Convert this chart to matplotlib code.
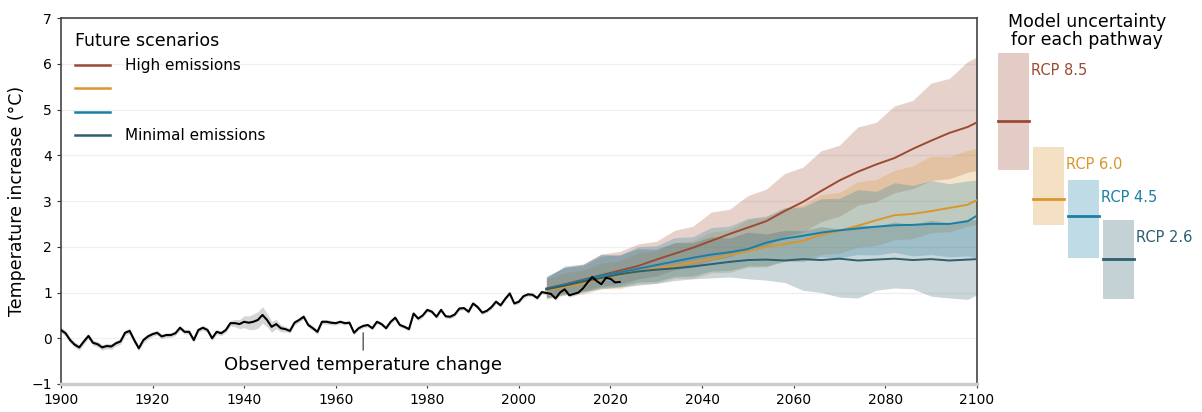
import numpy as np
import matplotlib.pyplot as plt
from matplotlib.lines import Line2D

# Observed temperature change (annual, 1900-2022)
obs_years = np.arange(1900, 2023)
obs_temp = [
    0.18, 0.11, -0.04, -0.14, -0.20, -0.07, 0.05, -0.10, -0.13, -0.20,
    -0.17, -0.18, -0.11, -0.07, 0.12, 0.16, -0.04, -0.22, -0.04, 0.04,
    0.09, 0.12, 0.04, 0.07, 0.07, 0.11, 0.23, 0.14, 0.14, -0.04,
    0.18, 0.23, 0.18, 0.00, 0.14, 0.11, 0.18, 0.33, 0.33, 0.31,
    0.36, 0.34, 0.36, 0.40, 0.51, 0.40, 0.25, 0.31, 0.22, 0.20,
    0.16, 0.34, 0.40, 0.47, 0.29, 0.22, 0.14, 0.36, 0.36, 0.34,
    0.33, 0.36, 0.33, 0.34, 0.12, 0.22, 0.27, 0.29, 0.22, 0.36,
    0.31, 0.22, 0.36, 0.45, 0.29, 0.25, 0.20, 0.54, 0.43, 0.50,
    0.62, 0.58, 0.47, 0.62, 0.48, 0.47, 0.52, 0.65, 0.66, 0.58,
    0.76, 0.68, 0.56, 0.60, 0.68, 0.80, 0.72, 0.86, 0.98, 0.76,
    0.80, 0.92, 0.96, 0.95, 0.88, 1.01, 0.99, 0.97, 0.87, 1.00,
    1.07, 0.94, 0.97, 1.00, 1.09, 1.22, 1.34, 1.25, 1.18, 1.32,
    1.30, 1.22, 1.23,
]
obs_err = [
    0.06, 0.06, 0.06, 0.06, 0.06, 0.06, 0.06, 0.06, 0.06, 0.06,
    0.06, 0.06, 0.06, 0.06, 0.06, 0.06, 0.06, 0.06, 0.06, 0.06,
    0.05, 0.05, 0.05, 0.05, 0.05, 0.05, 0.05, 0.05, 0.05, 0.05,
    0.05, 0.05, 0.05, 0.05, 0.05, 0.05, 0.05, 0.06, 0.08, 0.10,
    0.13, 0.15, 0.17, 0.18, 0.18, 0.15, 0.12, 0.10, 0.08, 0.06,
    0.05, 0.05, 0.05, 0.05, 0.05, 0.05, 0.05, 0.05, 0.05, 0.05,
    0.04, 0.04, 0.04, 0.04, 0.04, 0.04, 0.04, 0.04, 0.04, 0.04,
    0.04, 0.04, 0.04, 0.04, 0.04, 0.04, 0.04, 0.04, 0.04, 0.04,
    0.04, 0.04, 0.04, 0.04, 0.04, 0.04, 0.04, 0.04, 0.04, 0.04,
    0.04, 0.04, 0.04, 0.04, 0.04, 0.04, 0.04, 0.04, 0.04, 0.04,
    0.04, 0.04, 0.04, 0.04, 0.04, 0.04, 0.04, 0.04, 0.04, 0.04,
    0.04, 0.04, 0.04, 0.04, 0.04, 0.04, 0.04, 0.04, 0.04, 0.04,
    0.04, 0.04, 0.04,
]

# Projections (model mean and spread)
proj_years = [2006, 2010, 2014, 2018, 2022, 2026, 2030, 2034, 2038, 2042, 2046, 2050, 2054,
              2058, 2062, 2066, 2070, 2074, 2078, 2082, 2086, 2090, 2094, 2098, 2100]

rcp85_mean = [1.09, 1.18, 1.28, 1.38, 1.48, 1.58, 1.72, 1.85, 1.98, 2.13, 2.28, 2.42, 2.56,
              2.78, 2.98, 3.22, 3.45, 3.64, 3.80, 3.94, 4.14, 4.32, 4.49, 4.62, 4.72]
rcp85_high = [1.35, 1.55, 1.62, 1.84, 1.90, 2.06, 2.12, 2.36, 2.45, 2.76, 2.82, 3.12, 3.26,
              3.60, 3.74, 4.10, 4.22, 4.62, 4.72, 5.08, 5.20, 5.58, 5.68, 6.05, 6.15]
rcp85_low = [0.90, 0.99, 1.04, 1.14, 1.18, 1.30, 1.36, 1.50, 1.56, 1.70, 1.78, 1.95, 2.02,
             2.23, 2.32, 2.55, 2.67, 2.91, 2.99, 3.18, 3.27, 3.45, 3.49, 3.63, 3.67]

rcp60_mean = [1.05, 1.12, 1.20, 1.30, 1.38, 1.46, 1.53, 1.58, 1.66, 1.74, 1.82, 1.90, 2.00,
              2.06, 2.13, 2.26, 2.35, 2.46, 2.58, 2.69, 2.72, 2.78, 2.85, 2.92, 3.02]
rcp60_high = [1.30, 1.43, 1.49, 1.64, 1.69, 1.86, 1.92, 2.09, 2.13, 2.32, 2.37, 2.59, 2.65,
              2.86, 2.92, 3.14, 3.19, 3.42, 3.47, 3.67, 3.77, 3.98, 3.97, 4.11, 4.15]
rcp60_low = [0.85, 0.94, 0.96, 1.08, 1.08, 1.19, 1.20, 1.31, 1.31, 1.43, 1.44, 1.55, 1.56,
             1.68, 1.70, 1.83, 1.86, 1.99, 2.03, 2.15, 2.18, 2.31, 2.33, 2.45, 2.48]

rcp45_mean = [1.08, 1.17, 1.27, 1.37, 1.44, 1.52, 1.60, 1.68, 1.76, 1.83, 1.88, 1.95, 2.09,
              2.18, 2.24, 2.31, 2.36, 2.40, 2.44, 2.47, 2.48, 2.50, 2.50, 2.56, 2.68]
rcp45_high = [1.35, 1.55, 1.59, 1.80, 1.82, 2.00, 2.02, 2.20, 2.22, 2.42, 2.45, 2.62, 2.67,
              2.85, 2.87, 3.05, 3.06, 3.25, 3.21, 3.40, 3.34, 3.45, 3.38, 3.44, 3.46]
rcp45_low = [0.88, 0.97, 1.00, 1.11, 1.13, 1.23, 1.24, 1.35, 1.36, 1.47, 1.48, 1.58, 1.58,
             1.69, 1.68, 1.78, 1.76, 1.83, 1.82, 1.88, 1.80, 1.83, 1.78, 1.80, 1.76]

rcp26_mean = [1.07, 1.15, 1.24, 1.32, 1.40, 1.46, 1.50, 1.53, 1.57, 1.62, 1.67, 1.71, 1.72,
              1.70, 1.73, 1.71, 1.74, 1.70, 1.72, 1.74, 1.71, 1.73, 1.70, 1.72, 1.73]
rcp26_high = [1.32, 1.58, 1.62, 1.84, 1.82, 1.96, 1.95, 2.09, 2.09, 2.22, 2.19, 2.32, 2.28,
              2.36, 2.35, 2.44, 2.39, 2.48, 2.45, 2.54, 2.49, 2.58, 2.52, 2.60, 2.59]
rcp26_low = [0.88, 0.95, 1.02, 1.08, 1.12, 1.16, 1.20, 1.26, 1.30, 1.32, 1.34, 1.30, 1.27,
             1.22, 1.05, 1.00, 0.90, 0.88, 1.05, 1.10, 1.08, 0.92, 0.88, 0.85, 0.95]

# Right panel: model uncertainty at 2100
rcp_labels = ["RCP 8.5", "RCP 6.0", "RCP 4.5", "RCP 2.6"]
rcp_bar_low = [3.68, 2.48, 1.76, 0.86]
rcp_bar_high = [6.24, 4.19, 3.46, 2.59]
rcp_bar_mid = [4.75, 3.05, 2.68, 1.74]

colors = ["#9c4a33", "#d9962e", "#1a7fa6", "#2d5f6e"]
legend_labels = ["High emissions", "", "", "Minimal emissions"]

series = [
    (rcp85_mean, rcp85_low, rcp85_high),
    (rcp60_mean, rcp60_low, rcp60_high),
    (rcp45_mean, rcp45_low, rcp45_high),
    (rcp26_mean, rcp26_low, rcp26_high),
]

fig = plt.figure(figsize=(12.02, 4.12), dpi=100)
ax = fig.add_axes([0.0507, 0.068, 0.762, 0.888])

for i, (mean, low, high) in enumerate(series):
    ax.fill_between(proj_years, low, high, color=colors[i], alpha=0.25, linewidth=0, zorder=1)
for i, (mean, low, high) in enumerate(series):
    ax.plot(proj_years, mean, color=colors[i], linewidth=1.4, zorder=3)

obs_temp = np.array(obs_temp)
obs_err = np.array(obs_err)
ax.fill_between(obs_years, obs_temp - obs_err, obs_temp + obs_err, color="#bbbbbb",
                alpha=0.6, linewidth=0, zorder=2)
ax.plot(obs_years, obs_temp, color="black", linewidth=1.5, zorder=4)

ax.annotate("Observed temperature change", xy=(1966, 0.18), xytext=(1966, -0.38),
            fontsize=13, ha="center", va="top",
            arrowprops=dict(arrowstyle="-", color="#555555", lw=1.0, shrinkA=2, shrinkB=2))

ax.set_xlim(1900, 2100)
ax.set_ylim(-1, 7)
ax.set_xticks(range(1900, 2101, 20))
ax.set_yticks(range(-1, 8))
ax.tick_params(labelsize=10, length=3, color="#333333")
ax.grid(axis="y", color="#f0f0f0", linewidth=1)
ax.set_axisbelow(True)
ax.set_ylabel("Temperature increase (°C)", fontsize=12.5)
for side in ["top", "right", "left"]:
    ax.spines[side].set_color("#444444")
    ax.spines[side].set_linewidth(1.2)
ax.spines["bottom"].set_color("#cccccc")
ax.spines["bottom"].set_linewidth(2.5)

handles = [Line2D([], [], color=c, linewidth=1.8) for c in colors]
leg = ax.legend(handles, legend_labels, title="Future scenarios", loc="upper left",
                frameon=False, fontsize=11, title_fontsize=12.5, handlelength=2.3,
                handletextpad=1.0, labelspacing=0.55, alignment="left",
                bbox_to_anchor=(0.0, 1.0))

# Model uncertainty panel
ax2 = fig.add_axes([0.8137, 0.068, 0.1863, 0.888])
ax2.set_ylim(-1, 7)
ax2.set_xlim(-1.01, 5.39)
ax2.axis("off")
for i in range(len(rcp_labels)):
    ax2.bar(i, rcp_bar_high[i] - rcp_bar_low[i], bottom=rcp_bar_low[i], width=0.88,
            color=colors[i], alpha=0.28, linewidth=0)
    ax2.plot([i - 0.44, i + 0.44], [rcp_bar_mid[i], rcp_bar_mid[i]], color=colors[i], linewidth=2)
    ax2.text(i + 0.5, rcp_bar_high[i] - 0.38, rcp_labels[i], color=colors[i], fontsize=10.5,
             ha="left", va="center")
ax2.text(2.1, 6.72, "Model uncertainty\nfor each pathway", fontsize=12.5, ha="center",
         va="center", linespacing=1.05)

fig.savefig("out.png", dpi=100)
